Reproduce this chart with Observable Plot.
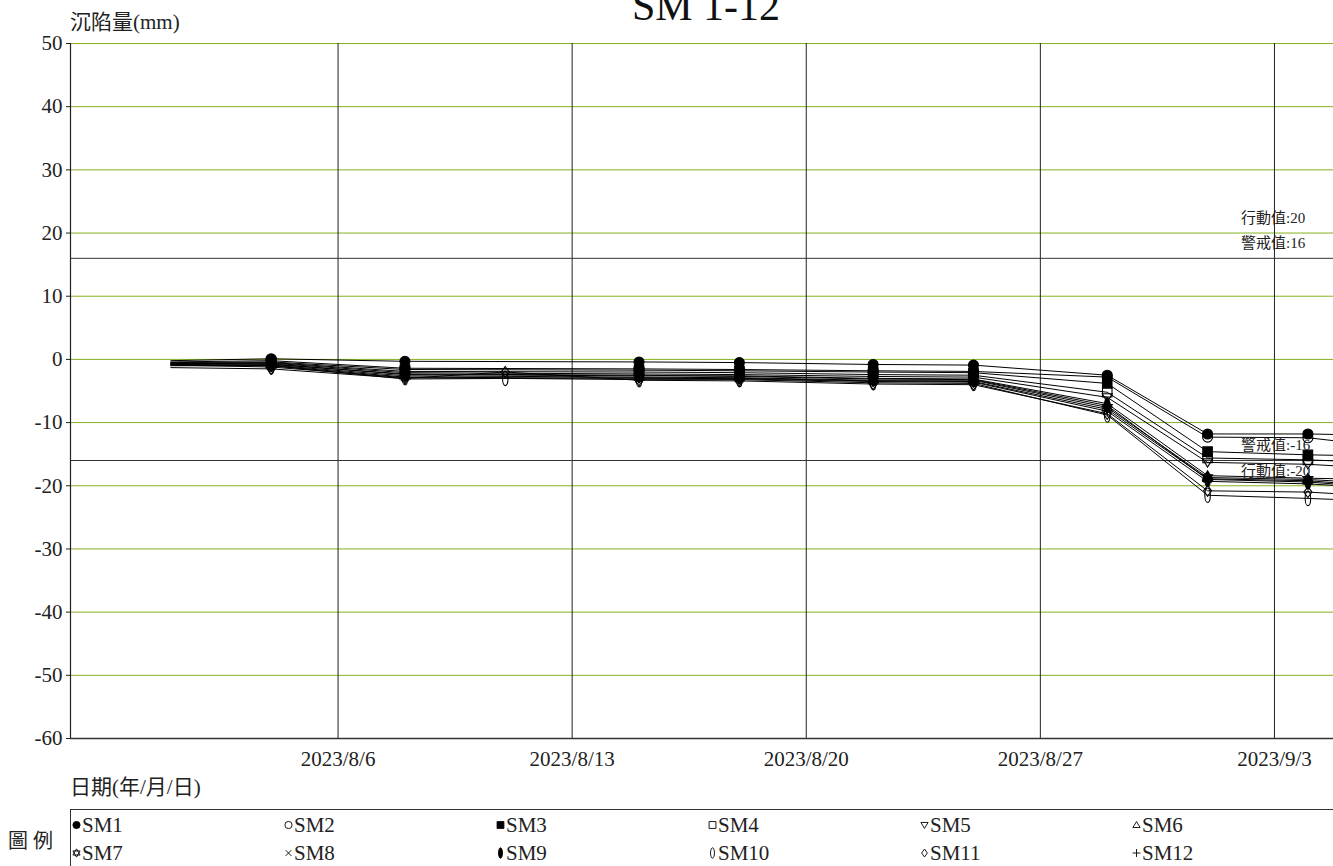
<!DOCTYPE html>
<html>
<head>
<meta charset="utf-8">
<script src="https://cdn.jsdelivr.net/npm/d3@7"></script>
<script src="https://cdn.jsdelivr.net/npm/@observablehq/plot@0.6"></script>
<style>
  body { margin: 0; background: white; }
  #wrap { position: relative; width: 1333px; height: 866px; overflow: hidden; background: white;
          font-family: "Liberation Serif", "Noto Sans CJK TC", serif; color: #222; }
  .abs { position: absolute; white-space: nowrap; }
</style>
</head>
<body>
<div id="wrap"></div>
<script>
// ---------------- data ----------------
const dates = ["2023-08-01","2023-08-04","2023-08-08","2023-08-11","2023-08-15","2023-08-18",
               "2023-08-22","2023-08-25","2023-08-29","2023-09-01","2023-09-04","2023-09-05"];
const seriesNames = ["SM1","SM2","SM3","SM4","SM5","SM6","SM7","SM8","SM9","SM10","SM11","SM12"];
const SM1  = [-0.2,  0.1, -0.3, null, -0.4, -0.5, -0.8, -0.9, -2.5, -11.8, -11.8, -11.9];
const SM2  = [-0.4, -0.2, -1.4, null, -1.5, -1.6, -1.8, -1.9, -2.8, -12.3, -12.4, -13.0];
const SM3  = [-0.5, -0.4, -1.6, null, -1.7, -1.8, -2.0, -2.1, -3.8, -14.6, -15.1, -15.2];
const SM4  = [-0.6, -0.5, -1.9, null, -2.0, -2.1, -2.4, -2.5, -5.2, -15.6, -15.9, -16.1];
const SM5  = [-0.7, -0.6, -2.1, null, -2.3, -2.4, -2.7, -2.8, -6.0, -16.3, -16.6, -16.9];
const SM6  = [-0.8, -0.7, -2.4, null, -2.6, -2.6, -3.0, -3.1, -7.0, -18.4, -18.8, -18.9];
const SM7  = [-0.9, -0.9, -2.6, null, -2.8, -2.9, -3.3, -3.3, -7.6, -18.7, -19.0, -19.3];
const SM8  = [-1.0, -1.0, -2.8, null, -3.0, -3.0, -3.4, -3.5, -7.9, -18.9, -19.2, -19.6];
const SM9  = [-0.6, -0.8, -2.3, null, -2.5, -2.7, -3.1, -3.2, -7.3, -19.0, -19.4, -19.8];
const SM10 = [-0.9, -1.2, -2.9, -3.0, -3.2, -3.2, -3.7, -3.8, -8.8, -21.5, -22.0, -22.2];
const SM11 = [-1.3, -1.5, -3.0, -2.0, -3.3, -3.4, -3.9, -4.0, -8.6, -20.8, -21.0, -21.3];
const SM12 = [-0.8, -1.0, -3.1, null, -2.9, -3.1, -3.5, -3.6, -8.2, -19.3, -19.7, -20.0];
const seriesValues = [SM1,SM2,SM3,SM4,SM5,SM6,SM7,SM8,SM9,SM10,SM11,SM12];

const yTicks = [50, 40, 30, 20, 10, 0, -10, -20, -30, -40, -50, -60];
const xTickLabels = ["2023-08-06","2023-08-13","2023-08-20","2023-08-27","2023-09-03"];
const thresholdValues = [20, 16, -16, -20];
const thresholdLabels = ["行動值:20", "警戒值:16", "警戒值:-16", "行動值:-20"];
const warningLines = [16, -16];

const title = "SM 1-12";
const yLabel = "沉陷量(mm)";
const xLabel = "日期(年/月/日)";
const legendTitle = "圖 例";

// ---------------- helpers ----------------
const parse = s => new Date(s + "T00:00:00Z");
const xStart = parse("2023-07-29");
const xEnd = new Date(Date.UTC(2023, 8, 4, 18, 22));
const firstDate = parse(dates[0]);
const labelDate = parse("2023-09-02");

const rows = [];
seriesNames.forEach((name, i) => {
  seriesValues[i].forEach((v, j) => {
    if (v != null) rows.push({series: name, date: parse(dates[j]), value: v});
  });
});

function mk(fn) { return {draw(ctx, size) { fn(ctx, Math.sqrt(size / Math.PI)); }}; }
const symCircle = mk((c, r) => { c.moveTo(r, 0); c.arc(0, 0, r, 0, 2 * Math.PI); });
const symSquare = mk((c, r) => { const s = r * 0.95; c.rect(-s, -s, 2 * s, 2 * s); });
const symTriDown = mk((c, r) => { c.moveTo(-r, -r * 0.7); c.lineTo(r, -r * 0.7); c.lineTo(0, r * 0.95); c.closePath(); });
const symTriUp = mk((c, r) => { c.moveTo(-r, r * 0.7); c.lineTo(r, r * 0.7); c.lineTo(0, -r * 0.95); c.closePath(); });
const symStar = mk((c, r) => {
  const R = r * 1.15;
  for (const off of [-Math.PI / 2, Math.PI / 2]) {
    for (let k = 0; k < 3; k++) {
      const a = off + k * 2 * Math.PI / 3;
      const px = R * Math.cos(a), py = R * Math.sin(a);
      if (k === 0) c.moveTo(px, py); else c.lineTo(px, py);
    }
    c.closePath();
  }
});
const symTimes = mk((c, r) => { const s = r * 0.8; c.moveTo(-s, -s); c.lineTo(s, s); c.moveTo(s, -s); c.lineTo(-s, s); });
const symPlus = mk((c, r) => { const s = r * 1.1; c.moveTo(-s, 0); c.lineTo(s, 0); c.moveTo(0, -s); c.lineTo(0, s); });
const symEllipse = mk((c, r) => {
  const rx = r * 0.55, ry = r * 1.45, k = 0.5523;
  c.moveTo(0, -ry);
  c.bezierCurveTo(k * rx, -ry, rx, -k * ry, rx, 0);
  c.bezierCurveTo(rx, k * ry, k * rx, ry, 0, ry);
  c.bezierCurveTo(-k * rx, ry, -rx, k * ry, -rx, 0);
  c.bezierCurveTo(-rx, -k * ry, -k * rx, -ry, 0, -ry);
  c.closePath();
});
const symDiamond = mk((c, r) => { c.moveTo(0, -r * 1.1); c.lineTo(r * 0.8, 0); c.lineTo(0, r * 1.1); c.lineTo(-r * 0.8, 0); c.closePath(); });

const symbolSpecs = [
  {sym: symCircle, fill: "black"}, {sym: symCircle, fill: "none"},
  {sym: symSquare, fill: "black"}, {sym: symSquare, fill: "none"},
  {sym: symTriDown, fill: "none"}, {sym: symTriUp, fill: "none"},
  {sym: symStar, fill: "none"}, {sym: symTimes, fill: "none"},
  {sym: symEllipse, fill: "black"}, {sym: symEllipse, fill: "none"},
  {sym: symDiamond, fill: "none"}, {sym: symPlus, fill: "none"}
];

const fmtDate = d => `${d.getUTCFullYear()}/${d.getUTCMonth() + 1}/${d.getUTCDate()}`;
const gridGreen = "#86b020";

// ---------------- chart ----------------
const dotMarks = seriesNames.map((name, i) =>
  Plot.dot(rows.filter(d => d.series === name && d.date > firstDate), {
    x: "date", y: "value", r: 5, symbol: symbolSpecs[i].sym,
    fill: symbolSpecs[i].fill, stroke: "black", strokeWidth: 1.1, clip: true
  })
);

const chart = Plot.plot({
  width: 1333,
  height: 780,
  marginTop: 43,
  marginBottom: 42,
  marginLeft: 70,
  marginRight: 0,
  style: {fontFamily: '"Liberation Serif", "Noto Sans CJK TC", serif', fontSize: "21px", color: "#222", background: "white"},
  x: {type: "utc", domain: [xStart, xEnd]},
  y: {domain: [-60, 50]},
  marks: [
    Plot.ruleY(yTicks.filter(v => v !== -60), {y: d => d, stroke: gridGreen, strokeWidth: 1}),
    Plot.ruleX(xTickLabels.map(parse), {x: d => d, stroke: "#222", strokeWidth: 1}),
    Plot.ruleY(warningLines, {y: d => d, stroke: "#333", strokeWidth: 1}),
    Plot.line(rows, {x: "date", y: "value", z: "series", stroke: "black", strokeWidth: 1, clip: true}),
    ...dotMarks,
    Plot.text(thresholdValues, {
      x: () => labelDate, y: d => d, text: (d, i) => thresholdLabels[i],
      textAnchor: "start", dy: -15, fontSize: 15, fill: "#222"
    }),
    Plot.ruleX([xStart], {stroke: "#222", strokeWidth: 1.2}),
    Plot.ruleY([-60], {stroke: "#333", strokeWidth: 1.5}),
    Plot.axisY({ticks: yTicks, tickSize: 4, tickPadding: 4, fontSize: 21, label: null, tickFormat: d => String(d)}),
    Plot.axisX({ticks: xTickLabels.map(parse), tickSize: 0, tickPadding: 13, fontSize: 21, label: null, tickFormat: fmtDate})
  ]
});

const wrap = document.getElementById("wrap");
chart.style.position = "absolute";
chart.style.left = "0px";
chart.style.top = "0px";
wrap.appendChild(chart);

// ---------------- texts ----------------
function addText(txt, style) {
  const el = document.createElement("div");
  el.className = "abs";
  el.textContent = txt;
  Object.assign(el.style, style);
  wrap.appendChild(el);
  return el;
}
addText(title, {left: "0px", width: "1412px", textAlign: "center", top: "-15px", fontSize: "42px", lineHeight: "42px", color: "#111"});
addText(yLabel, {left: "70px", top: "10px", fontSize: "21px", lineHeight: "24px"});
addText(xLabel, {left: "70px", top: "775px", fontSize: "21px", lineHeight: "24px"});
addText(legendTitle, {left: "8px", top: "829px", fontSize: "20px", lineHeight: "24px"});

// legend box
const box = document.createElement("div");
box.className = "abs";
Object.assign(box.style, {left: "70px", top: "809px", width: "1300px", height: "80px", border: "1.5px solid #333"});
wrap.appendChild(box);

seriesNames.forEach((name, i) => {
  const col = i % 6, row = Math.floor(i / 6);
  const left = 72 + col * 212;
  const cy = row === 0 ? 825 : 853;
  const item = document.createElement("div");
  item.className = "abs";
  Object.assign(item.style, {left: left + "px", top: (cy - 12) + "px", height: "24px", display: "flex", alignItems: "center", fontSize: "21px", lineHeight: "24px"});
  const svg = d3.create("svg").attr("width", 10).attr("height", 20).style("overflow", "visible");
  const p = d3.path();
  symbolSpecs[i].sym.draw(p, Math.PI * 3.6 * 3.6);
  svg.append("path").attr("transform", "translate(4.5,10)").attr("d", p.toString())
    .attr("fill", symbolSpecs[i].fill).attr("stroke", "black").attr("stroke-width", 0.9);
  item.appendChild(svg.node());
  const t = document.createElement("span");
  t.textContent = name;
  item.appendChild(t);
  wrap.appendChild(item);
});
</script>
</body>
</html>
